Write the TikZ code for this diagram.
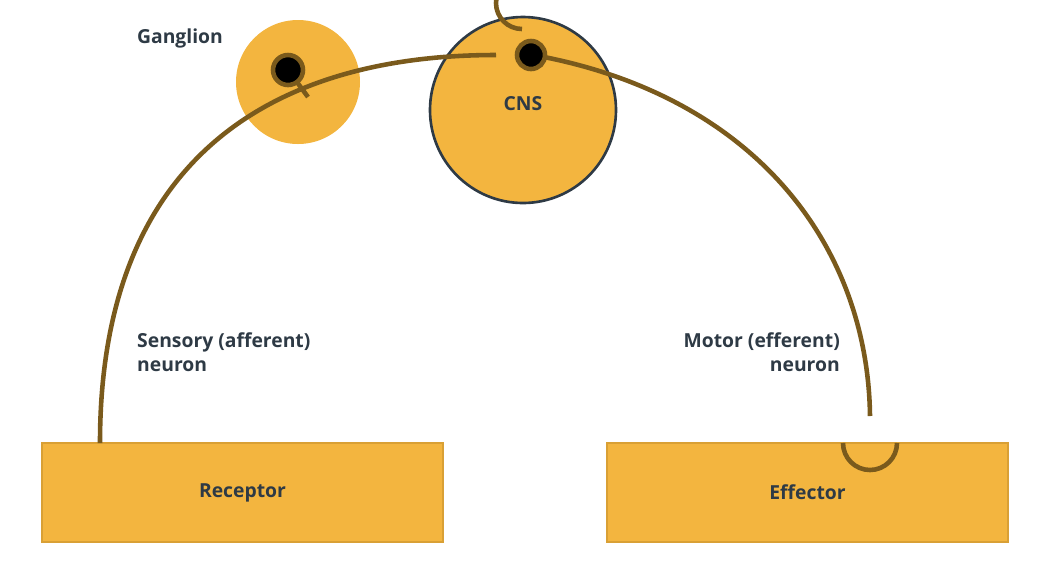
\documentclass[tikz,border=0pt]{standalone}
\usepackage{fontspec}
\setmainfont{Open Sans}
\definecolor{gold}{HTML}{F3B53F}
\definecolor{goldedge}{HTML}{D9A035}
\definecolor{nerve}{HTML}{7A5A1C}
\definecolor{ink}{HTML}{2E3A45}
\begin{document}
\begin{tikzpicture}[x=0.02cm,y=-0.02cm]
\tikzset{every node/.style={font=\fontsize{11}{14}\selectfont\bfseries,text=ink},
  organ/.style={draw=goldedge,fill=gold,line width=1pt,minimum width=8.02cm,minimum height=1.98cm},
  nerve/.style={draw=nerve,line width=2.6pt}}
    \useasboundingbox (0,0) rectangle (1056,566);
    \node[organ] (rec) at (242.5,492.5) {Receptor};
    \node[organ] (eff) at (807.5,492.5) {Effector};
    \fill[gold] (298,82) circle (62);
    \draw[ink,fill=gold,line width=1.5pt] (523,110) circle (93);
    \node (gl) at (180,38) {Ganglion};
    \node (cns) at (523,104) {CNS};

    \coordinate (s0) at (100,443);
    \coordinate (s1) at (496,55);
    \coordinate (m0) at (544,57);
    \coordinate (m1) at (870,416);
    \draw[nerve] (s0) .. controls (100,160) and (270,55) .. (s1);
    \draw[nerve] (m0) .. controls (760,100) and (868,250) .. (m1);
    \draw[nerve] (288,70) -- (308,97);
    \fill[nerve] (288,70) circle (15);
    \draw[nerve] (522,29) arc (90:270:26);
    \fill[nerve] (531,55) circle (14);
    \draw[nerve] (843,443) arc (180:0:27);

    \node[align=left,anchor=north west] (sn) at (131,326) {Sensory (afferent)\\neuron};
    \node[align=right,anchor=north east] (mn) at (846,326) {Motor (efferent)\\neuron};
\end{tikzpicture}
\end{document}
